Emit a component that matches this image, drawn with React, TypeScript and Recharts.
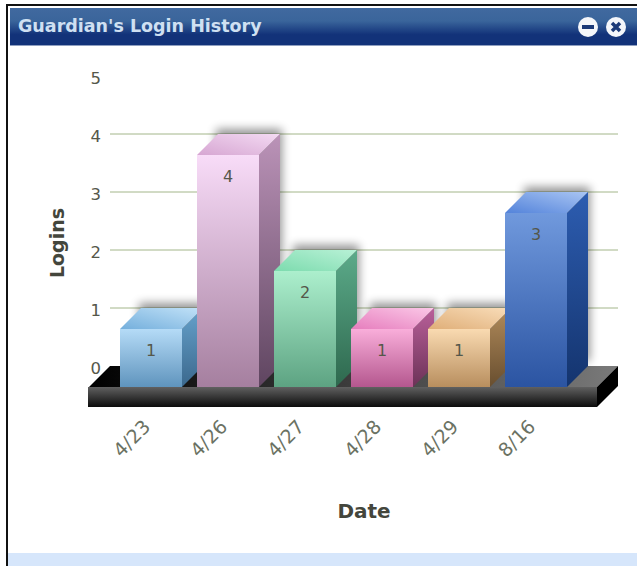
import { BarChart, Bar, XAxis, YAxis, CartesianGrid, ReferenceArea } from "recharts";

const DATES = ["4/23", "4/26", "4/27", "4/28", "4/29", "8/16"];
const LOGINS = [1, 4, 2, 1, 1, 3];
const Y_TICKS = [0, 1, 2, 3, 4, 5];
const GRID_VALUES = [1, 2, 3, 4];

// front top, front bottom, top dark, top light, side top, side bottom
const BAR_COLORS = [
  ["#b5dbf7", "#5f94bd", "#74afdc", "#c2e2f8", "#66a2cc", "#3b688d"],
  ["#f8dcf8", "#a57f9f", "#d6a6d2", "#f4daf3", "#bb93b8", "#5f4560"],
  ["#acefcd", "#5da382", "#7cdbae", "#b8f1d6", "#5cab8a", "#2e684e"],
  ["#f9aeda", "#b4578e", "#e67dbd", "#fbc8e7", "#b9609a", "#6c3257"],
  ["#f9dab1", "#b88e5e", "#dfae78", "#f9ddb9", "#b18b5b", "#684e2f"],
  ["#7099dd", "#2b54a2", "#5383da", "#a9c5f3", "#2d5db1", "#14346e"],
];

const data = DATES.map((date, i) => ({ date, logins: LOGINS[i] }));

const DEPTH = 21;
const X_PAD = 23;
const AXIS_TEXT = "#55574a";
const FONT = "'DejaVu Sans', sans-serif";

function Bar3D(props: any) {
  const { x, y, width, height, index } = props;
  const fx = x - DEPTH;
  const fy = y + DEPTH;
  return (
    <g>
      <rect x={x - 2} y={y - 5} width={width + 4} height={height} fill="#000" opacity={0.42} style={{ filter: "blur(5px)" }} />
      <polygon
        points={`${fx},${fy} ${fx + width},${fy} ${x + width},${y} ${x},${y}`}
        fill={`url(#top${index})`}
      />
      <polygon
        points={`${fx + width},${fy} ${x + width},${y} ${x + width},${y + height} ${fx + width},${fy + height}`}
        fill={`url(#side${index})`}
      />
      <rect x={fx} y={fy} width={width} height={height} fill={`url(#front${index})`} />
      <text x={fx + width / 2} y={fy + 27} textAnchor="middle" fontSize={16} fontFamily={FONT} fill={AXIS_TEXT}>
        {LOGINS[index]}
      </text>
    </g>
  );
}

// the floor slab under the bars, hung off the y=0 line of the plot
function Floor(props: any) {
  const { x, y, width } = props;
  const left = x - X_PAD;
  const right = x + width + X_PAD;
  return (
    <g>
      <polygon
        points={`${left - DEPTH},${y + DEPTH} ${right - DEPTH},${y + DEPTH} ${right},${y} ${left},${y}`}
        fill="url(#floorTop)"
      />
      <rect x={left - DEPTH - 1} y={y + DEPTH} width={right - left + 1} height={20} fill="url(#floorFront)" />
      <polygon
        points={`${right - DEPTH},${y + DEPTH} ${right},${y} ${right},${y + 20} ${right - DEPTH},${y + DEPTH + 20}`}
        fill="#000"
      />
    </g>
  );
}

function DateTick(props: any) {
  const { x, y, payload } = props;
  return (
    <text
      transform={`translate(${x - DEPTH + 1},${y + 54}) rotate(-45)`}
      textAnchor="end"
      fontSize={19}
      fontFamily={FONT}
      fill="#6b7263"
    >
      {payload.value}
    </text>
  );
}

function Header() {
  return (
    <div
      style={{
        position: "absolute",
        left: 10,
        right: 0,
        top: 8,
        height: 37,
        background: "linear-gradient(#41699f 0%, #3a659b 35%, #123279 72%, #123279 100%)",
        borderBottom: "1px solid #8f9fc0",
      }}
    >
      <div
        style={{
          position: "absolute",
          left: 8,
          top: 8,
          fontFamily: FONT,
          fontWeight: "bold",
          fontSize: 17.5,
          lineHeight: "21px",
          whiteSpace: "nowrap",
          color: "#cfe0f2",
        }}
      >
        Guardian's Login History
      </div>
      <svg width={60} height={37} style={{ position: "absolute", right: 0, top: 0 }}>
        <circle cx={11} cy={19} r={10} fill="#f4f6fa" />
        <rect x={5} y={17} width={12} height={4} fill="#1c3a78" />
        <circle cx={39} cy={19} r={10} fill="#f4f6fa" />
        <path d="M35 15 L43 23 M43 15 L35 23" stroke="#1c3a78" strokeWidth={3.5} />
      </svg>
    </div>
  );
}

export default function App() {
  return (
    <div style={{ position: "absolute", left: 0, top: 0, width: 637, height: 566, overflow: "hidden", background: "#fff" }}>
      <div style={{ position: "absolute", left: 6, right: 0, top: 4, height: 2, background: "#111" }} />
      <div style={{ position: "absolute", left: 6, top: 4, bottom: 0, width: 2, background: "#111" }} />
      <div style={{ position: "absolute", left: 8, right: 0, top: 553, bottom: 0, background: "#d6e6fb" }} />
      <Header />
      <div style={{ position: "absolute", left: 0, top: 0 }}>
        <BarChart
          width={637}
          height={566}
          data={data}
          margin={{ top: 76, right: 19, bottom: 0, left: 40 }}
          barSize={62}
        >
          <defs>
            {BAR_COLORS.map((c, i) => (
              <linearGradient key={`f${i}`} id={`front${i}`} x1="0" y1="0" x2="0" y2="1">
                <stop offset="0%" stopColor={c[0]} />
                <stop offset="100%" stopColor={c[1]} />
              </linearGradient>
            ))}
            {BAR_COLORS.map((c, i) => (
              <linearGradient key={`t${i}`} id={`top${i}`} x1="0" y1="1" x2="1" y2="0">
                <stop offset="0%" stopColor={c[2]} />
                <stop offset="100%" stopColor={c[3]} />
              </linearGradient>
            ))}
            {BAR_COLORS.map((c, i) => (
              <linearGradient key={`s${i}`} id={`side${i}`} x1="0" y1="0" x2="0" y2="1">
                <stop offset="0%" stopColor={c[4]} />
                <stop offset="100%" stopColor={c[5]} />
              </linearGradient>
            ))}
            <linearGradient id="floorFront" x1="0" y1="0" x2="0" y2="1">
              <stop offset="0%" stopColor="#606060" />
              <stop offset="100%" stopColor="#0c0c0c" />
            </linearGradient>
            <linearGradient id="floorTop" x1="0" y1="0" x2="1" y2="0">
              <stop offset="0%" stopColor="#000" />
              <stop offset="100%" stopColor="#7a7a7a" />
            </linearGradient>
          </defs>
          <CartesianGrid
            vertical={false}
            horizontalValues={GRID_VALUES}
            stroke="#a3b68a"
            strokeWidth={1}
          />
          <XAxis
            dataKey="date"
            height={200}
            padding={{ left: X_PAD, right: X_PAD }}
            axisLine={false}
            tickLine={false}
            interval={0}
            tick={<DateTick />}
            label={{
              value: "Date",
              position: "insideBottom",
              offset: 48,
              style: { fontFamily: FONT, fontWeight: "bold", fontSize: 20, fill: "#44463c" },
            }}
          />
          <YAxis
            domain={[0, 5]}
            ticks={Y_TICKS}
            width={70}
            axisLine={false}
            tickLine={false}
            tickMargin={3}
            tick={{ fontSize: 16.5, fontFamily: FONT, fill: "#55574a", dy: 2 }}
            label={{
              value: "Logins",
              angle: -90,
              position: "insideLeft",
              offset: 17,
              dy: 22,
              style: { fontFamily: FONT, fontWeight: "bold", fontSize: 19, fill: "#44463c", textAnchor: "middle" },
            }}
          />
          <ReferenceArea y1={0} y2={5} shape={(p: any) => <Floor {...p} y={p.y + p.height} />} fill="none" />
          <Bar dataKey="logins" isAnimationActive={false} shape={<Bar3D />} />
        </BarChart>
      </div>
    </div>
  );
}
